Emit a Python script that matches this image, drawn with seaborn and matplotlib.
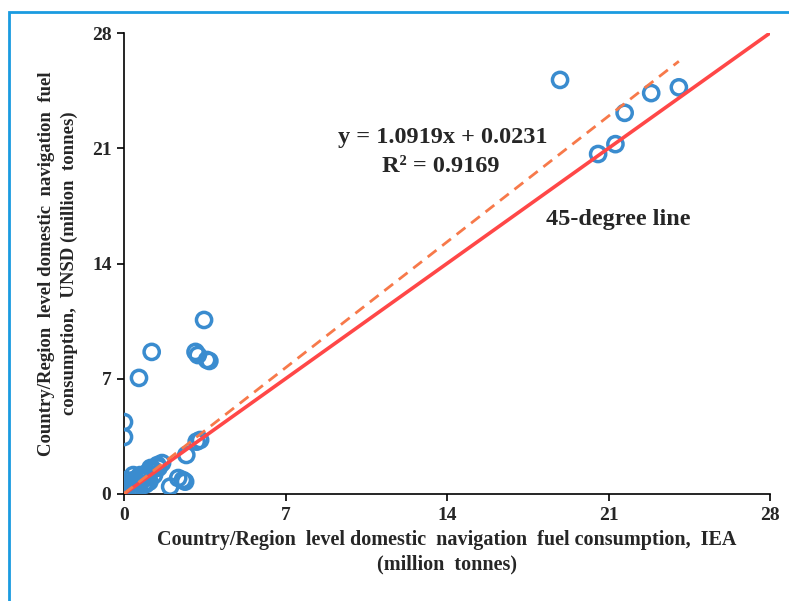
import matplotlib
matplotlib.use("Agg")
import matplotlib.pyplot as plt
import matplotlib.patches as patches
import seaborn as sns
import numpy as np

# values (million tonnes)
iea = [18.9, 24.05, 22.85, 21.7, 20.55, 21.3,
       3.47, 1.2, 3.1, 3.2, 3.6, 3.7, 0.65, 0.0, 0.0,
       3.15, 3.3, 2.7,
       2.0, 2.35, 2.65, 2.55,
       0.0, 0.0, 0.1, 0.15, 0.3, 0.4, 0.5, 0.7, 0.8, 0.9, 1.0, 1.1,
       1.15, 1.3, 1.45, 1.65, 1.25, 0.85, 0.6, 0.4, 0.2, 0.05, 0.1,
       0.25, 0.75, 1.05, 0.55, 0.35, 0.45, 0.95, 1.5]
unsd = [25.15, 24.7, 24.35, 23.15, 20.65, 21.25,
        10.57, 8.63, 8.63, 8.44, 8.14, 8.08, 7.05, 4.37, 3.46,
        3.18, 3.28, 2.37,
        0.45, 0.97, 0.75, 0.85,
        0.24, 0.67, 0.12, 0.4, 0.2, 1.15, 0.9, 1.15, 0.85, 1.0, 1.28, 0.75,
        1.58, 1.15, 1.76, 1.88, 1.5, 0.55, 0.67, 0.36, 0.6, 0.05, 0.85,
        0.05, 0.95, 1.1, 0.45, 0.7, 0.1, 0.6, 1.6]

slope, intercept = 1.0919, 0.0231
ticks = [0, 7, 14, 21, 28]

sns.set_style("white")
plt.rcParams['font.family'] = ['Liberation Serif', 'DejaVu Serif']
plt.rcParams['font.weight'] = 'bold'

W, H = 789, 601
fig = plt.figure(figsize=(W / 100, H / 100), dpi=100)
ax = fig.add_axes([124 / W, 1 - 494 / H, 646 / W, 461 / H])

# blue frame around the whole chart
fig.patches.append(patches.Rectangle((9 / W, -0.05), 1.0, 1 - 12 / H + 0.05,
                                     transform=fig.transFigure, fill=False,
                                     edgecolor='#1a9be0', linewidth=2))

sns.scatterplot(x=iea, y=unsd, ax=ax, marker='o', s=120, facecolor='none',
                edgecolor='#3a8ccf', linewidth=2.5, zorder=3)

# 45-degree line
ax.plot([0, 28], [0, 28], color='#ff4747', linewidth=2.6, zorder=4)

# linear trend line
xs = np.array([min(iea), max(iea)])
ax.plot(xs, slope * xs + intercept, color='#f7794a', linewidth=2.0,
        dashes=(4, 2.6), zorder=4)


def fig_text(px, py, s):
    fig.text(px / W, 1 - py / H, s, fontsize=17.5, fontweight='bold',
             ha='center', va='center')


fig_text(443, 138, 'y = 1.0919x + 0.0231')
fig_text(441, 166, 'R² = 0.9169')
fig_text(618, 220, '45-degree line')

ax.set_xlim(0, 28)
ax.set_ylim(0, 28)
ax.set_xticks(ticks)
ax.set_yticks(ticks)
ax.tick_params(axis='both', direction='out', length=5, width=1.2, color='black',
               labelsize=14, pad=4, bottom=True, left=True)
for lab in ax.get_xticklabels() + ax.get_yticklabels():
    lab.set_fontweight('bold')
for side in ['top', 'right']:
    ax.spines[side].set_visible(False)
for side in ['left', 'bottom']:
    ax.spines[side].set_color('black')
    ax.spines[side].set_linewidth(1.2)

ax.set_xlabel('Country/Region  level domestic  navigation  fuel consumption,  IEA\n(million  tonnes)',
              fontsize=14.5, fontweight='bold', labelpad=5, linespacing=1.3)
ax.set_ylabel('Country/Region  level domestic  navigation  fuel\nconsumption,  UNSD (million  tonnes)',
              fontsize=13.5, fontweight='bold', labelpad=10, linespacing=1.4)

fig.savefig('out.png', dpi=100)
